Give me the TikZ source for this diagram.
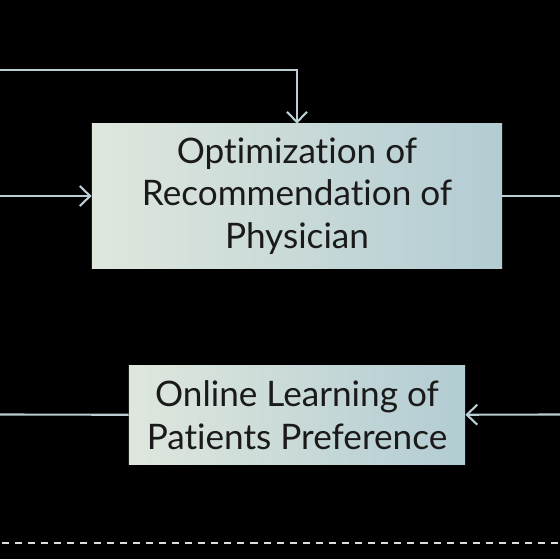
\documentclass[tikz,border=0pt]{standalone}
\usepackage{fontspec}
\setmainfont{Lato}[Ligatures={NoCommon}]
\usetikzlibrary{arrows.meta,positioning}
\definecolor{linecol}{HTML}{B9CDD2}
\definecolor{boxleft}{HTML}{DFE7DD}
\definecolor{boxright}{HTML}{B2CCD3}
\definecolor{dashcol}{HTML}{DADDDD}
\definecolor{textcol}{HTML}{1A1A1A}

\begin{document}
\begin{tikzpicture}[
  x=0.025cm, y=-0.025cm,
  box/.style={left color=boxleft,right color=boxright,align=center,text=textcol,
    inner sep=0pt,font=\fontsize{25}{30.3}\selectfont},
  link/.style={draw=linecol,line width=1.5pt},
  arr/.style={link,-{Straight Barb[length=2.6mm,width=5mm]}},
  dashes/.style={draw=dashcol,line width=1.6pt,dash pattern=on 5pt off 4.3pt}
]
\fill[black] (0,0) rectangle (560,559);
\useasboundingbox (0,0) rectangle (560,559);
\node[box,minimum width=10.25cm,minimum height=3.6cm] (optim) at (297,196)
  {Optimization of\\Recommendation of\\Physician};
\node[box,minimum width=8.4cm,minimum height=2.475cm,below=2.425cm of optim] (learn)
  {Online Learning of\\Patients Preference};
\coordinate (topin) at (0,70);
\coordinate (leftin) at (0,196);
\coordinate (rightout) at (560,196);
\coordinate (learnin) at (0,414.5);
\coordinate (learnout) at (560,414.5);
\coordinate (dashl) at (2,543);
\coordinate (dashr) at (558,543);
\draw[arr] (topin) -| (optim.north);
\draw[arr] (leftin) -- (optim);
\draw[link] (optim) -- (rightout);
\draw[link] (learnin) -- (learn);
\draw[arr] (learnout) -- (learn);
\draw[dashes] (dashl) -- (dashr);
\end{tikzpicture}
\end{document}
